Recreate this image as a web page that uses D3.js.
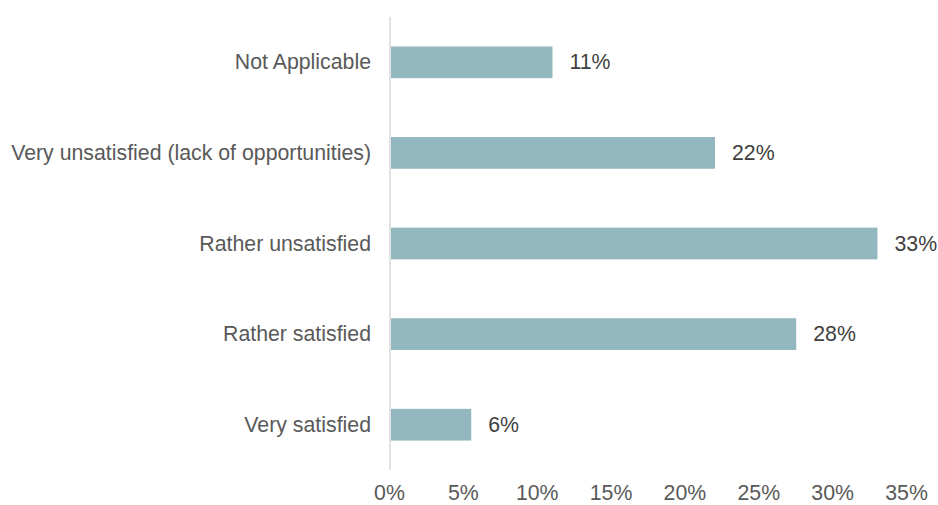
<!DOCTYPE html>
<html><head><meta charset="utf-8">
<script src="https://cdn.jsdelivr.net/npm/d3@7"></script>
<style>body{margin:0;background:#fff}svg{display:block}</style>
</head><body>
<svg id="c" width="938" height="505"></svg>
<script>
const categories = ["Not Applicable","Very unsatisfied (lack of opportunities)","Rather unsatisfied","Rather satisfied","Very satisfied"];
const values = [11, 22, 33, 27.5, 5.5];
const valueLabels = ["11%","22%","33%","28%","6%"];
const tickValues = [0,5,10,15,20,25,30,35];

const svg = d3.select("#c");
const font = "Liberation Sans, Arial, sans-serif";
const fs = 21.3;
const x = d3.scaleLinear().domain([0,35]).range([390,907]);
const y = d3.scaleBand().domain(categories).range([17,470]).paddingInner(0.65).paddingOuter(0.325);

svg.selectAll("rect.bar").data(categories).join("rect")
  .attr("class","bar")
  .attr("x", x(0)+1).attr("y", d=>y(d))
  .attr("width", (d,i)=>x(values[i])-x(0)-1)
  .attr("height", y.bandwidth())
  .attr("fill","#93B7BE");

svg.append("line").attr("x1",x(0)).attr("x2",x(0)).attr("y1",17).attr("y2",470)
  .attr("stroke","#d9d9d9").attr("stroke-width",1.5);

svg.selectAll("text.cat").data(categories).join("text")
  .attr("class","cat").attr("x",371).attr("y",d=>y(d)+y.bandwidth()/2)
  .attr("dy","0.33em").attr("text-anchor","end")
  .attr("font-family",font).attr("font-size",fs).attr("fill","#595959")
  .text(d=>d);

svg.selectAll("text.val").data(categories).join("text")
  .attr("class","val").attr("x",(d,i)=>x(values[i])+17).attr("y",d=>y(d)+y.bandwidth()/2)
  .attr("dy","0.33em")
  .attr("font-family",font).attr("font-size",fs).attr("fill","#404040")
  .text((d,i)=>valueLabels[i]);

const ax = d3.axisBottom(x).tickValues(tickValues).tickFormat(d=>d+"%").tickSize(0).tickPadding(0);
const g = svg.append("g").attr("transform","translate(-1,485)").call(ax);
g.select(".domain").remove();
g.selectAll("text").attr("font-family",font).attr("font-size",fs).attr("fill","#595959");
</script>
</body></html>
